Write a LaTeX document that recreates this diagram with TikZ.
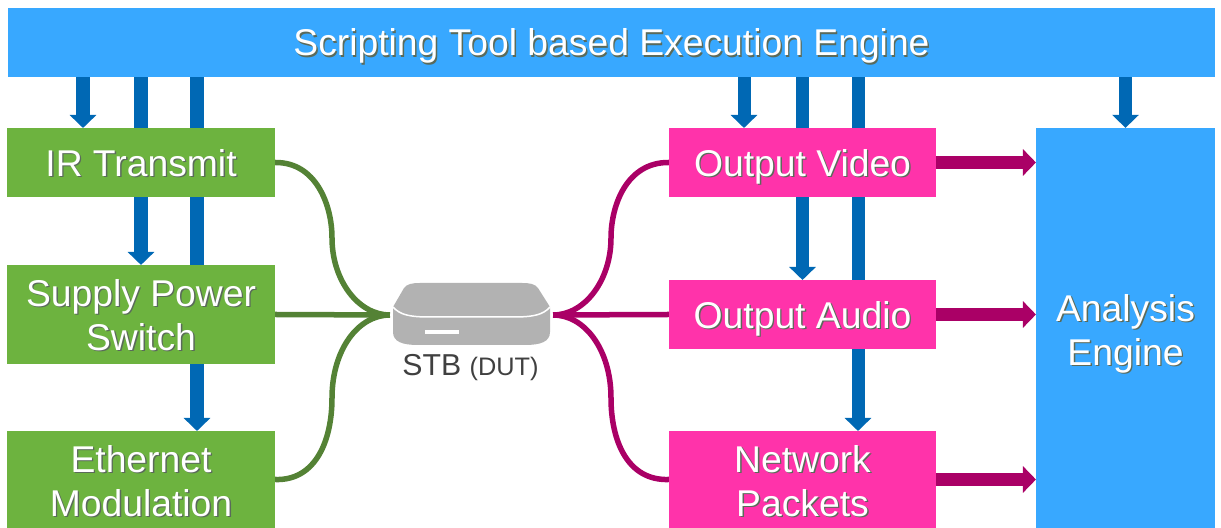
\documentclass[tikz,border=0pt]{standalone}
\usepackage{fontspec}
\setmainfont{Liberation Sans}
\usetikzlibrary{arrows.meta,backgrounds}

\definecolor{toolblue}{HTML}{38A8FF}
\definecolor{flowblue}{HTML}{0068B4}
\definecolor{boxgreen}{HTML}{6DB33F}
\definecolor{linegreen}{HTML}{548235}
\definecolor{boxpink}{HTML}{FF33AA}
\definecolor{linepink}{HTML}{AA0066}
\definecolor{stbgray}{HTML}{B2B2B2}
\definecolor{txtshade}{HTML}{5A6A5A}

\newcommand{\shtxt}[1]{\leavevmode\rlap{\raisebox{-0.35pt}{\kern0.4pt\textcolor{txtshade}{#1}}}#1}

\tikzset{
	box/.style={inner sep=0pt, outer sep=0pt, text=white, align=center, text depth=0pt, text height=0.27cm, font=\fontsize{10.6}{12.5}\selectfont},
	twolines/.style={text height=0.71cm},
	greenbox/.style={box, fill=boxgreen, minimum width=2.68cm},
	pinkbox/.style={box, fill=boxpink, minimum width=2.67cm},
	ctrlflow/.style={flowblue, line width=0.13cm, -{Triangle[length=0.13cm,width=0.26cm]}},
	dataflow/.style={linepink, line width=0.13cm, -{Triangle[length=0.13cm,width=0.26cm]}},
	greenwire/.style={linegreen, line width=0.055cm},
	pinkwire/.style={linepink, line width=0.055cm}
}

\begin{document}
\begin{tikzpicture}[x=0.01cm, y=-0.01cm]
	\useasboundingbox (0,0) rectangle (1221,528);

	% Top bar
	\node[box, fill=toolblue, minimum width=12.07cm, minimum height=0.69cm] (engine) at (611.5,42.5) {\shtxt{Scripting Tool based Execution Engine}};

	% Left column
	\node[greenbox, minimum height=0.69cm] (ir) at (141,162.5) {\shtxt{IR Transmit}};
	\node[greenbox, twolines, minimum height=0.99cm] (power) at (141,314.5) {\shtxt{Supply Power}\\\shtxt{Switch}};
	\node[greenbox, twolines, text height=0.73cm, minimum height=0.97cm] (ether) at (141,479.5) {\shtxt{Ethernet}\\\shtxt{Modulation}};

	% Right column
	\node[pinkbox, minimum height=0.69cm] (video) at (802.5,162.5) {\shtxt{Output Video}};
	\node[pinkbox, minimum height=0.69cm] (audio) at (802.5,314.5) {\shtxt{Output Audio}};
	\node[pinkbox, twolines, text height=0.73cm, minimum height=0.97cm] (packets) at (802.5,479.5) {\shtxt{Network}\\\shtxt{Packets}};
	\node[box, twolines, text height=0.75cm, fill=toolblue, minimum width=1.79cm, minimum height=4cm] (analysis) at (1125.5,328) {\shtxt{Analysis}\\\shtxt{Engine}};

	% Device
	\node[minimum width=1.63cm, minimum height=0.62cm, inner sep=0pt, outer sep=0pt] (stb) at (471.5,315) {};
	\fill[stbgray] (393,307) -- (404,288) .. controls (407,284) and (412,283) .. (420,283) -- (522,283) .. controls (530,283) and (535,284) .. (538,288) -- (550,307) -- (550,332) .. controls (550,342) and (540,345) .. (525,345) -- (418,345) .. controls (403,345) and (393,342) .. (393,332) -- cycle;
	\draw[white, line width=0.015cm] (393,307) .. controls (400,315) and (410,317) .. (430,317) -- (513,317) .. controls (533,317) and (543,315) .. (550,307);
	\fill[white] (425,330) rectangle (459,334);
	\node[text=black!75, inner sep=0pt, anchor=base, font=\fontsize{8.6}{11}\selectfont] (stblabel) at (470.5,376) {STB {\fontsize{7.2}{11}\selectfont (DUT)}};

	% Bends of the curved wires
	\coordinate (gup) at (332,238);
	\coordinate (gdown) at (332,398);
	\coordinate (pup) at (611,238);
	\coordinate (pdown) at (611,398);

	% Entry points off centre
	\coordinate (irin) at (83,128);
	\coordinate (etherin) at (197,431);
	\coordinate (videoin) at (744,128);
	\coordinate (packetsin) at (858,431);

	\draw[greenwire] (ir.east) .. controls (316,162) and (332,205) .. (gup) .. controls (332,280) and (358,315) .. (stb.west);
	\draw[greenwire] (ether.east) .. controls (316,481) and (332,440) .. (gdown) .. controls (332,350) and (358,315) .. (stb.west);
	\draw[greenwire] (power.east) -- (stb.west);
	\draw[pinkwire] (video.west) .. controls (627,162) and (611,205) .. (pup) .. controls (611,280) and (585,315) .. (stb.east);
	\draw[pinkwire] (packets.west) .. controls (627,481) and (611,440) .. (pdown) .. controls (611,350) and (585,315) .. (stb.east);
	\draw[pinkwire] (audio.west) -- (stb.east);

	\draw[dataflow] (video.east) -- (video.east -| analysis.west);
	\draw[dataflow] (audio.east) -- (audio.east -| analysis.west);
	\draw[dataflow] (packets.east) -- (packets.east -| analysis.west);

	\begin{scope}[on background layer]
		\draw[ctrlflow] (engine.south -| irin) -- (irin);
		\draw[ctrlflow] (engine.south -| power.north) -- (power.north);
		\draw[ctrlflow] (engine.south -| etherin) -- (etherin);
		\draw[ctrlflow] (engine.south -| videoin) -- (videoin);
		\draw[ctrlflow] (engine.south -| audio.north) -- (audio.north);
		\draw[ctrlflow] (engine.south -| packetsin) -- (packetsin);
		\draw[ctrlflow] (engine.south -| analysis.north) -- (analysis.north);
	\end{scope}
\end{tikzpicture}
\end{document}
